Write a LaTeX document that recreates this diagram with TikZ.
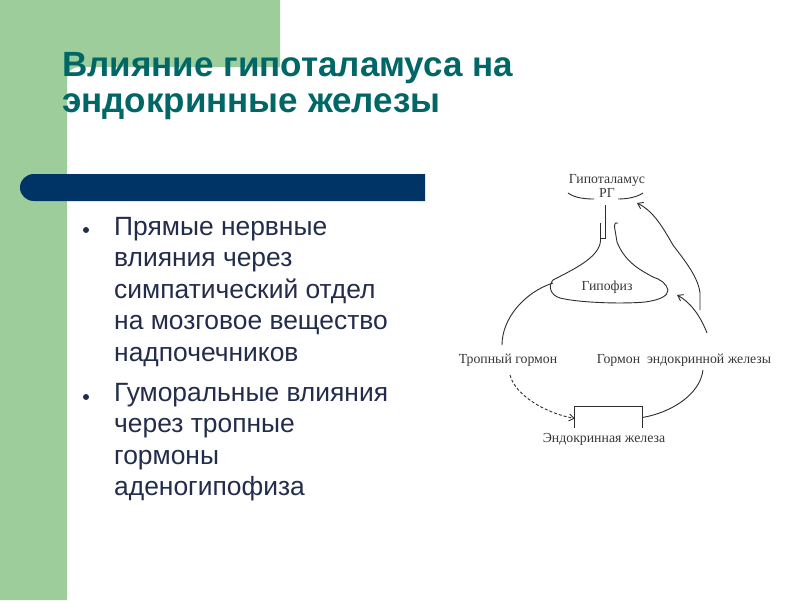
\documentclass[tikz,border=0pt]{standalone}
\usepackage{fontspec}
\setmainfont{Liberation Sans}
\newfontfamily\diagfont{Liberation Serif}
\usetikzlibrary{arrows.meta}
\definecolor{slidegreen}{RGB}{157,205,155}
\definecolor{barnavy}{RGB}{0,51,102}
\definecolor{titlecol}{RGB}{0,102,102}
\definecolor{bodycol}{RGB}{35,45,75}
\definecolor{diagline}{RGB}{45,45,45}
\definecolor{diagtext}{RGB}{55,55,55}
\tikzset{titletext/.style={anchor=north west, inner sep=0pt, align=left, text=titlecol,
           font=\fontsize{35}{36}\selectfont\bfseries},
  bodytext/.style={anchor=north west, inner sep=0pt, align=left, text=bodycol,
           font=\fontsize{26.4}{31.5}\selectfont},
  lbl/.style={inner sep=0pt, text=diagtext, font=\diagfont\fontsize{13.8}{14}\selectfont},
  wire/.style={draw=diagline, line width=0.9pt},
  >={Straight Barb[length=5pt,width=7pt]}
}
\begin{document}
\begin{tikzpicture}[x=1pt, y=-1pt]
        \useasboundingbox (0,0) rectangle (800,600);
        \fill[white] (0,0) rectangle (800,600);
        % slide frame
        \fill[slidegreen] (0,0) -- (280,0) -- (280,67) -- (79,67)
             .. controls (72,67) and (67,72) .. (67,79) -- (67,600) -- (0,600) -- cycle;
        \fill[barnavy] (425,174) -- (34,174) .. controls (26,174) and (20,180) .. (20,187.5)
             .. controls (20,195) and (26,201) .. (34,201) -- (425,201) -- cycle;
        \node[titletext] (title) at (62,52) {Влияние гипоталамуса на\\эндокринные железы};

        % bullets
        \fill[bodycol] (86,230) circle (3);
        \fill[bodycol] (86,397) circle (3);
        \node[bodytext] (nerv) at (114,217) {Прямые нервные\\влияния через\\симпатический отдел\\на мозговое вещество\\надпочечников};
        \node[bodytext] (humor) at (114,383) {Гуморальные влияния\\через тропные\\гормоны\\аденогипофиза};

        % diagram
        \node[lbl] (hyp)   at (607,180) {Гипоталамус};
        \node[lbl] (rg)    at (607,193) {РГ};
        \node[lbl] (pit)   at (607,287) {Гипофиз};
        \node[lbl] (trop)  at (508,360) {Тропный гормон};
        \node[lbl] (horm)  at (684,360) {Гормон\ \ эндокринной железы};
        \node[lbl] (gland) at (604,439) {Эндокринная железа};
        \node[minimum width=67pt, minimum height=21pt, inner sep=0pt] (glandbox) at (608.5,417.5) {};

        \coordinate (stalkL)   at (600.5,223);
        \coordinate (stalkR)   at (614.5,227);
        \coordinate (pitL)     at (553,283);
        \coordinate (pitR)     at (668,290);
        \coordinate (pitArrow) at (677,295);
        \coordinate (hypArrow) at (637,203);
        \coordinate (tropA)    at (502,345);
        \coordinate (tropB)    at (510,375);
        \coordinate (hormA)    at (703,370);
        \coordinate (hormB)    at (707,333);
        \coordinate (backA)    at (700,310);

        \draw[wire] (568,193) .. controls (575,198) and (585,199) .. (594,199);
        \draw[wire] (618,199) .. controls (628,199) and (637,197) .. (643,193);
        \draw[wire] (605,205) -- (605,238) -- (601,238);
        \draw[wire] (stalkL) -- (600.5,241) .. controls (599,258) and (572,270) .. (553,280)
             .. controls (548,286) and (550,295) .. (560,298) .. controls (580,303) and (625,304) .. (645,302)
             .. controls (660,300) and (668,296) .. (pitR) .. controls (667,284) and (660,279) .. (653,277)
             .. controls (640,270) and (625,262) .. (617,242) -- (stalkR) .. controls (614.5,223) and (616,222) .. (618,223);

        \draw[wire] (pitL) .. controls (525,292) and (502,318) .. (tropA);
        \draw[wire, densely dashed, ->] (tropB) .. controls (515,395) and (545,413) .. ([yshift=-1pt]glandbox.west);
        \draw[wire] (glandbox.south west) -- (glandbox.north west) -- (glandbox.north east) -- (glandbox.south east);
        \draw[wire] (glandbox.east) .. controls (670,413) and (700,395) .. (hormA);
        \draw[wire, ->] (hormB) .. controls (700,315) and (690,302) .. (pitArrow);
        \draw[wire, ->] (backA) -- (700,293) .. controls (698,275) and (680,255) .. (673,245)
             .. controls (664,230) and (655,212) .. (hypArrow);
\end{tikzpicture}
\end{document}
